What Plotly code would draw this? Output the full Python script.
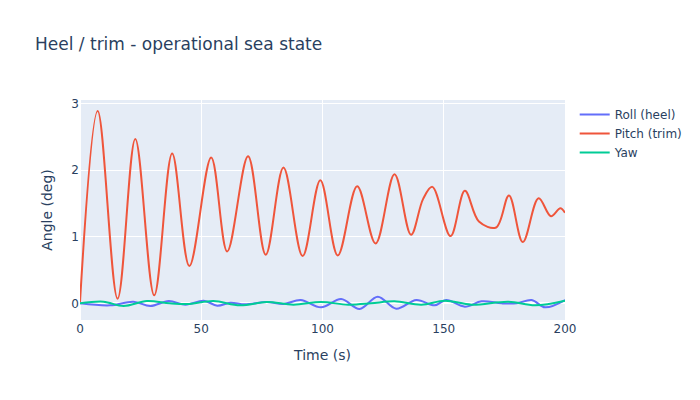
import plotly.graph_objects as go

# Pitch (trim) — key points
pitch_t = [0, 7.3, 15.5, 22.8, 30.6, 38.0, 45.1, 54.1, 60.7, 69.3, 76.6, 83.9, 91.8,
           99.1, 106.3, 114.3, 121.9, 129.7, 136.5, 141.5, 145.3, 152.8, 158.7,
           164.5, 171.6, 176.9, 182.6, 189.1, 194.2, 198.1, 200]
pitch_v = [0.02, 2.89, 0.07, 2.47, 0.12, 2.25, 0.56, 2.19, 0.78, 2.21, 0.73, 2.04, 0.71,
           1.85, 0.72, 1.76, 0.90, 1.94, 1.03, 1.57, 1.75, 1.01, 1.69,
           1.23, 1.14, 1.62, 0.92, 1.58, 1.31, 1.43, 1.36]

# Roll (heel)
roll_t = [0, 12.4, 22.0, 29.0, 36.6, 43.5, 51.0, 56.6, 62.0, 68.0, 77.0, 84.0, 91.0,
          99.4, 107.7, 115.3, 122.8, 130.4, 138.7, 146.3, 151.0, 158.7, 165.6,
          173.9, 180.0, 186.3, 191.8, 200]
roll_v = [0.0, -0.03, 0.025, -0.04, 0.035, -0.02, 0.04, -0.035, 0.01, -0.015, 0.02, -0.01, 0.05,
          -0.06, 0.065, -0.085, 0.10, -0.08, 0.05, -0.03, 0.05, -0.05, 0.03,
          0.0, 0.0, 0.05, -0.06, 0.05]

# Yaw
yaw_t = [0, 9.7, 18.0, 27.6, 37.0, 45.0, 55.0, 66.0, 77.0, 88.0, 99.4, 110.6,
         120.0, 129.7, 140.8, 150.4, 161.5, 176.7, 187.7, 200]
yaw_v = [0.0, 0.025, -0.04, 0.035, 0.0, -0.01, 0.035, -0.03, 0.02, -0.02, 0.02, -0.02,
         0.0, 0.03, -0.02, 0.04, -0.02, 0.025, -0.03, 0.04]

fig = go.Figure()
fig.add_trace(go.Scatter(x=roll_t, y=roll_v, mode="lines", name="Roll (heel)",
                         line=dict(shape="spline")))
fig.add_trace(go.Scatter(x=pitch_t, y=pitch_v, mode="lines", name="Pitch (trim)",
                         line=dict(shape="spline")))
fig.add_trace(go.Scatter(x=yaw_t, y=yaw_v, mode="lines", name="Yaw",
                         line=dict(shape="spline")))

fig.update_layout(
    title="Heel / trim - operational sea state",
    xaxis_title="Time (s)",
    yaxis_title="Angle (deg)",
    width=700, height=400,
    font=dict(family="DejaVu Sans"),
)
fig.write_html("out.html")
